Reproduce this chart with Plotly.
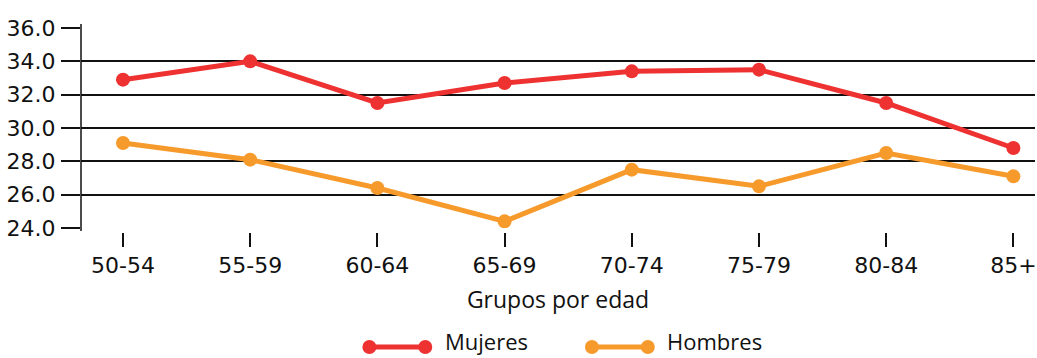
import plotly.graph_objects as go

# Age groups and mean values per sex
grupos = ["50-54", "55-59", "60-64", "65-69", "70-74", "75-79", "80-84", "85+"]
mujeres = [32.9, 34.0, 31.5, 32.7, 33.4, 33.5, 31.5, 28.8]
hombres = [29.1, 28.1, 26.4, 24.4, 27.5, 26.5, 28.5, 27.1]
y_ticks = [24, 26, 28, 30, 32, 34, 36]
y_tick_labels = [f"{v:.1f}" for v in y_ticks]

ROJO = "#EE3131"
NARANJA = "#F79A2C"

W, H = 1037, 358
M_L, M_R, M_T, M_B = 81, 0, 28, 126
plot_w = W - M_L - M_R
plot_h = H - M_T - M_B


def px_x(x):
    return (x - M_L) / plot_w


def px_y(y):
    return (H - M_B - y) / plot_h


fig = go.Figure()
for nombre, valores, color in [("Mujeres", mujeres, ROJO), ("Hombres", hombres, NARANJA)]:
    fig.add_trace(go.Scatter(
        x=grupos, y=valores, name=nombre, mode="lines+markers",
        line=dict(color=color, width=5),
        marker=dict(color=color, size=14),
        showlegend=False,
    ))

shapes = [
    # vertical axis line
    dict(type="line", xref="paper", yref="paper", x0=0, x1=0,
         y0=px_y(231), y1=px_y(24), line=dict(color="#111", width=1.5)),
]
annotations = []

# hand-drawn legend: line with a dot at each end, then the label
legend_items = [("Mujeres", ROJO, 370, 426, 444), ("Hombres", NARANJA, 593, 649, 666)]
ly = 347
for nombre, color, xa, xb, xt in legend_items:
    shapes.append(dict(type="line", xref="paper", yref="paper",
                       x0=px_x(xa), x1=px_x(xb), y0=px_y(ly), y1=px_y(ly),
                       line=dict(color=color, width=5)))
    for xc in (xa, xb):
        shapes.append(dict(type="circle", xref="paper", yref="paper",
                           x0=px_x(xc - 7), x1=px_x(xc + 7),
                           y0=px_y(ly + 7), y1=px_y(ly - 7),
                           fillcolor=color, line=dict(width=0)))
    annotations.append(dict(text=nombre, xref="paper", yref="paper",
                            x=px_x(xt), y=px_y(H), xanchor="left", yanchor="bottom",
                            showarrow=False,
                            font=dict(family="Open Sans", size=22, color="#111")))

fig.update_layout(
    width=W, height=H,
    margin=dict(l=M_L, r=M_R, t=M_T, b=M_B),
    plot_bgcolor="white", paper_bgcolor="white",
    shapes=shapes, annotations=annotations,
    xaxis=dict(
        type="category", range=[-0.33, 7.17],
        anchor="free", position=0,
        showgrid=False, showline=False, zeroline=False,
        ticks="outside", ticklen=14, tickwidth=1.5, tickcolor="#111",
        tickfont=dict(family="DejaVu Sans", size=22, color="#111"),
        title=dict(text="Grupos por edad", standoff=14,
                   font=dict(family="Open Sans", size=23, color="#111")),
    ),
    yaxis=dict(
        range=[24, 36], domain=[px_y(228), 1],
        tickvals=y_ticks, ticktext=y_tick_labels,
        showgrid=True, gridcolor="#111", gridwidth=1.5,
        showline=False, zeroline=False,
        ticks="outside", ticklen=19, tickwidth=1.5, tickcolor="#111",
        ticklabelstandoff=1,
        tickfont=dict(family="DejaVu Sans", size=22, color="#111"),
    ),
)

fig.write_html("out.html")
